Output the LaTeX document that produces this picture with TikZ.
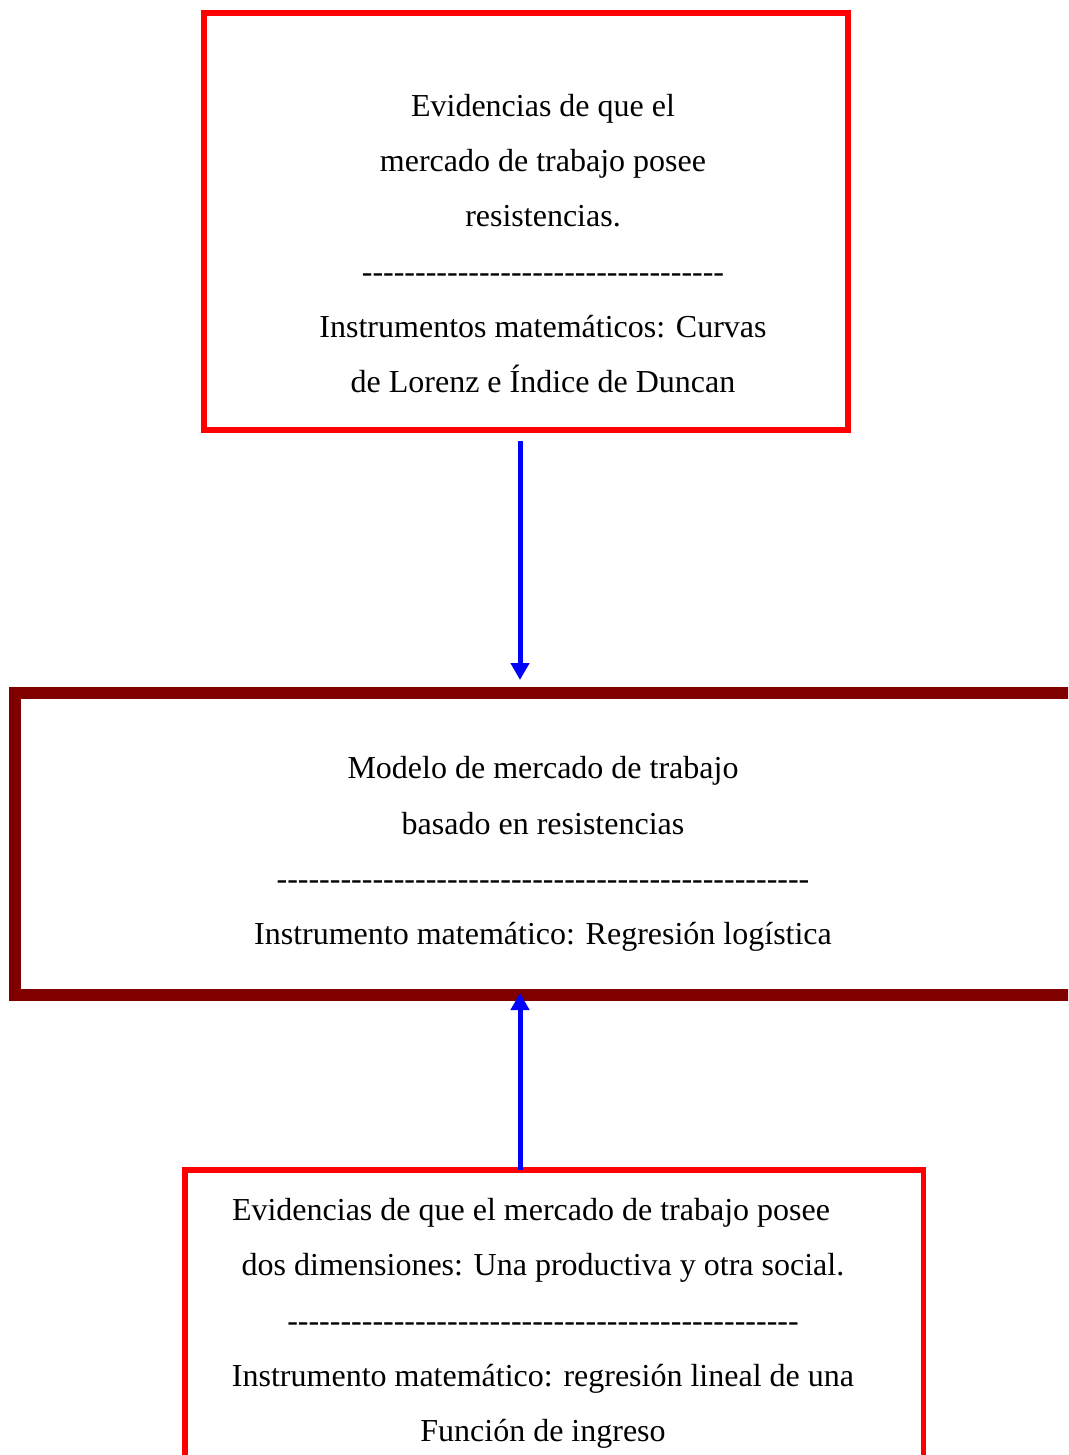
\documentclass[tikz,border=0pt]{standalone}
\usepackage{fontspec}
\setmainfont{Liberation Serif}[Ligatures=TeXOff]
\usetikzlibrary{arrows.meta}
\definecolor{boxred}{RGB}{255,0,0}
\definecolor{boxdark}{RGB}{128,0,0}
\definecolor{arrblue}{RGB}{0,0,255}
\begin{document}
\begin{tikzpicture}[x=1pt,y=-1pt,
  boxframe/.style={draw, rectangle, inner sep=0pt, outer sep=0pt},
  redbox/.style={boxframe, draw=boxred, line width=5.5pt},
  darkbox/.style={boxframe, draw=boxdark, line width=12pt},
  label/.style={align=center, inner sep=0pt, font={\fontsize{32}{55.3}\selectfont}},
  conn/.style={draw=arrblue, line width=5pt, -{Triangle[width=18pt,length=17pt]}}]
\useasboundingbox (0,0) rectangle (1068,1455);
\clip (0,0) rectangle (1068,1455);
\fill[white] (0,0) rectangle (1068,1455);
% boxes
\node[redbox, minimum width=644pt, minimum height=417pt] (top) at (526,221.5) {};
\node[darkbox, minimum width=1065pt, minimum height=302pt] (mid) at (547.5,844) {};
\node[redbox, minimum width=738.5pt, minimum height=310pt] (bot) at (554.25,1325) {};
% texts
\node[label] (toptext) at (543,243.5) {Evidencias de que el\\ mercado de trabajo posee\\ resistencias.\\ ----------------------------------\\ Instrumentos matemáticos: Curvas\\ de Lorenz e Índice de Duncan};
\node[label] (midtext) at (543,854) {Modelo de mercado de trabajo\\ basado en resistencias\\ --------------------------------------------------\\ Instrumento matemático: Regresión logística};
\node[label] (bottext) at (543,1323.5) {Evidencias de que el mercado de trabajo posee\hspace*{24pt}\\ dos dimensiones: Una productiva y otra social.\\ ------------------------------------------------\\ Instrumento matemático: regresión lineal de una\\ Función de ingreso};
% connectors
\coordinate (axis) at (520,0);
\draw[conn, shorten <=11pt, shorten >=13pt] (top.south -| axis) -- (mid.north -| axis);
\draw[conn, shorten >=-2pt] (bot.north -| axis) -- (mid.south -| axis);
\end{tikzpicture}
\end{document}
